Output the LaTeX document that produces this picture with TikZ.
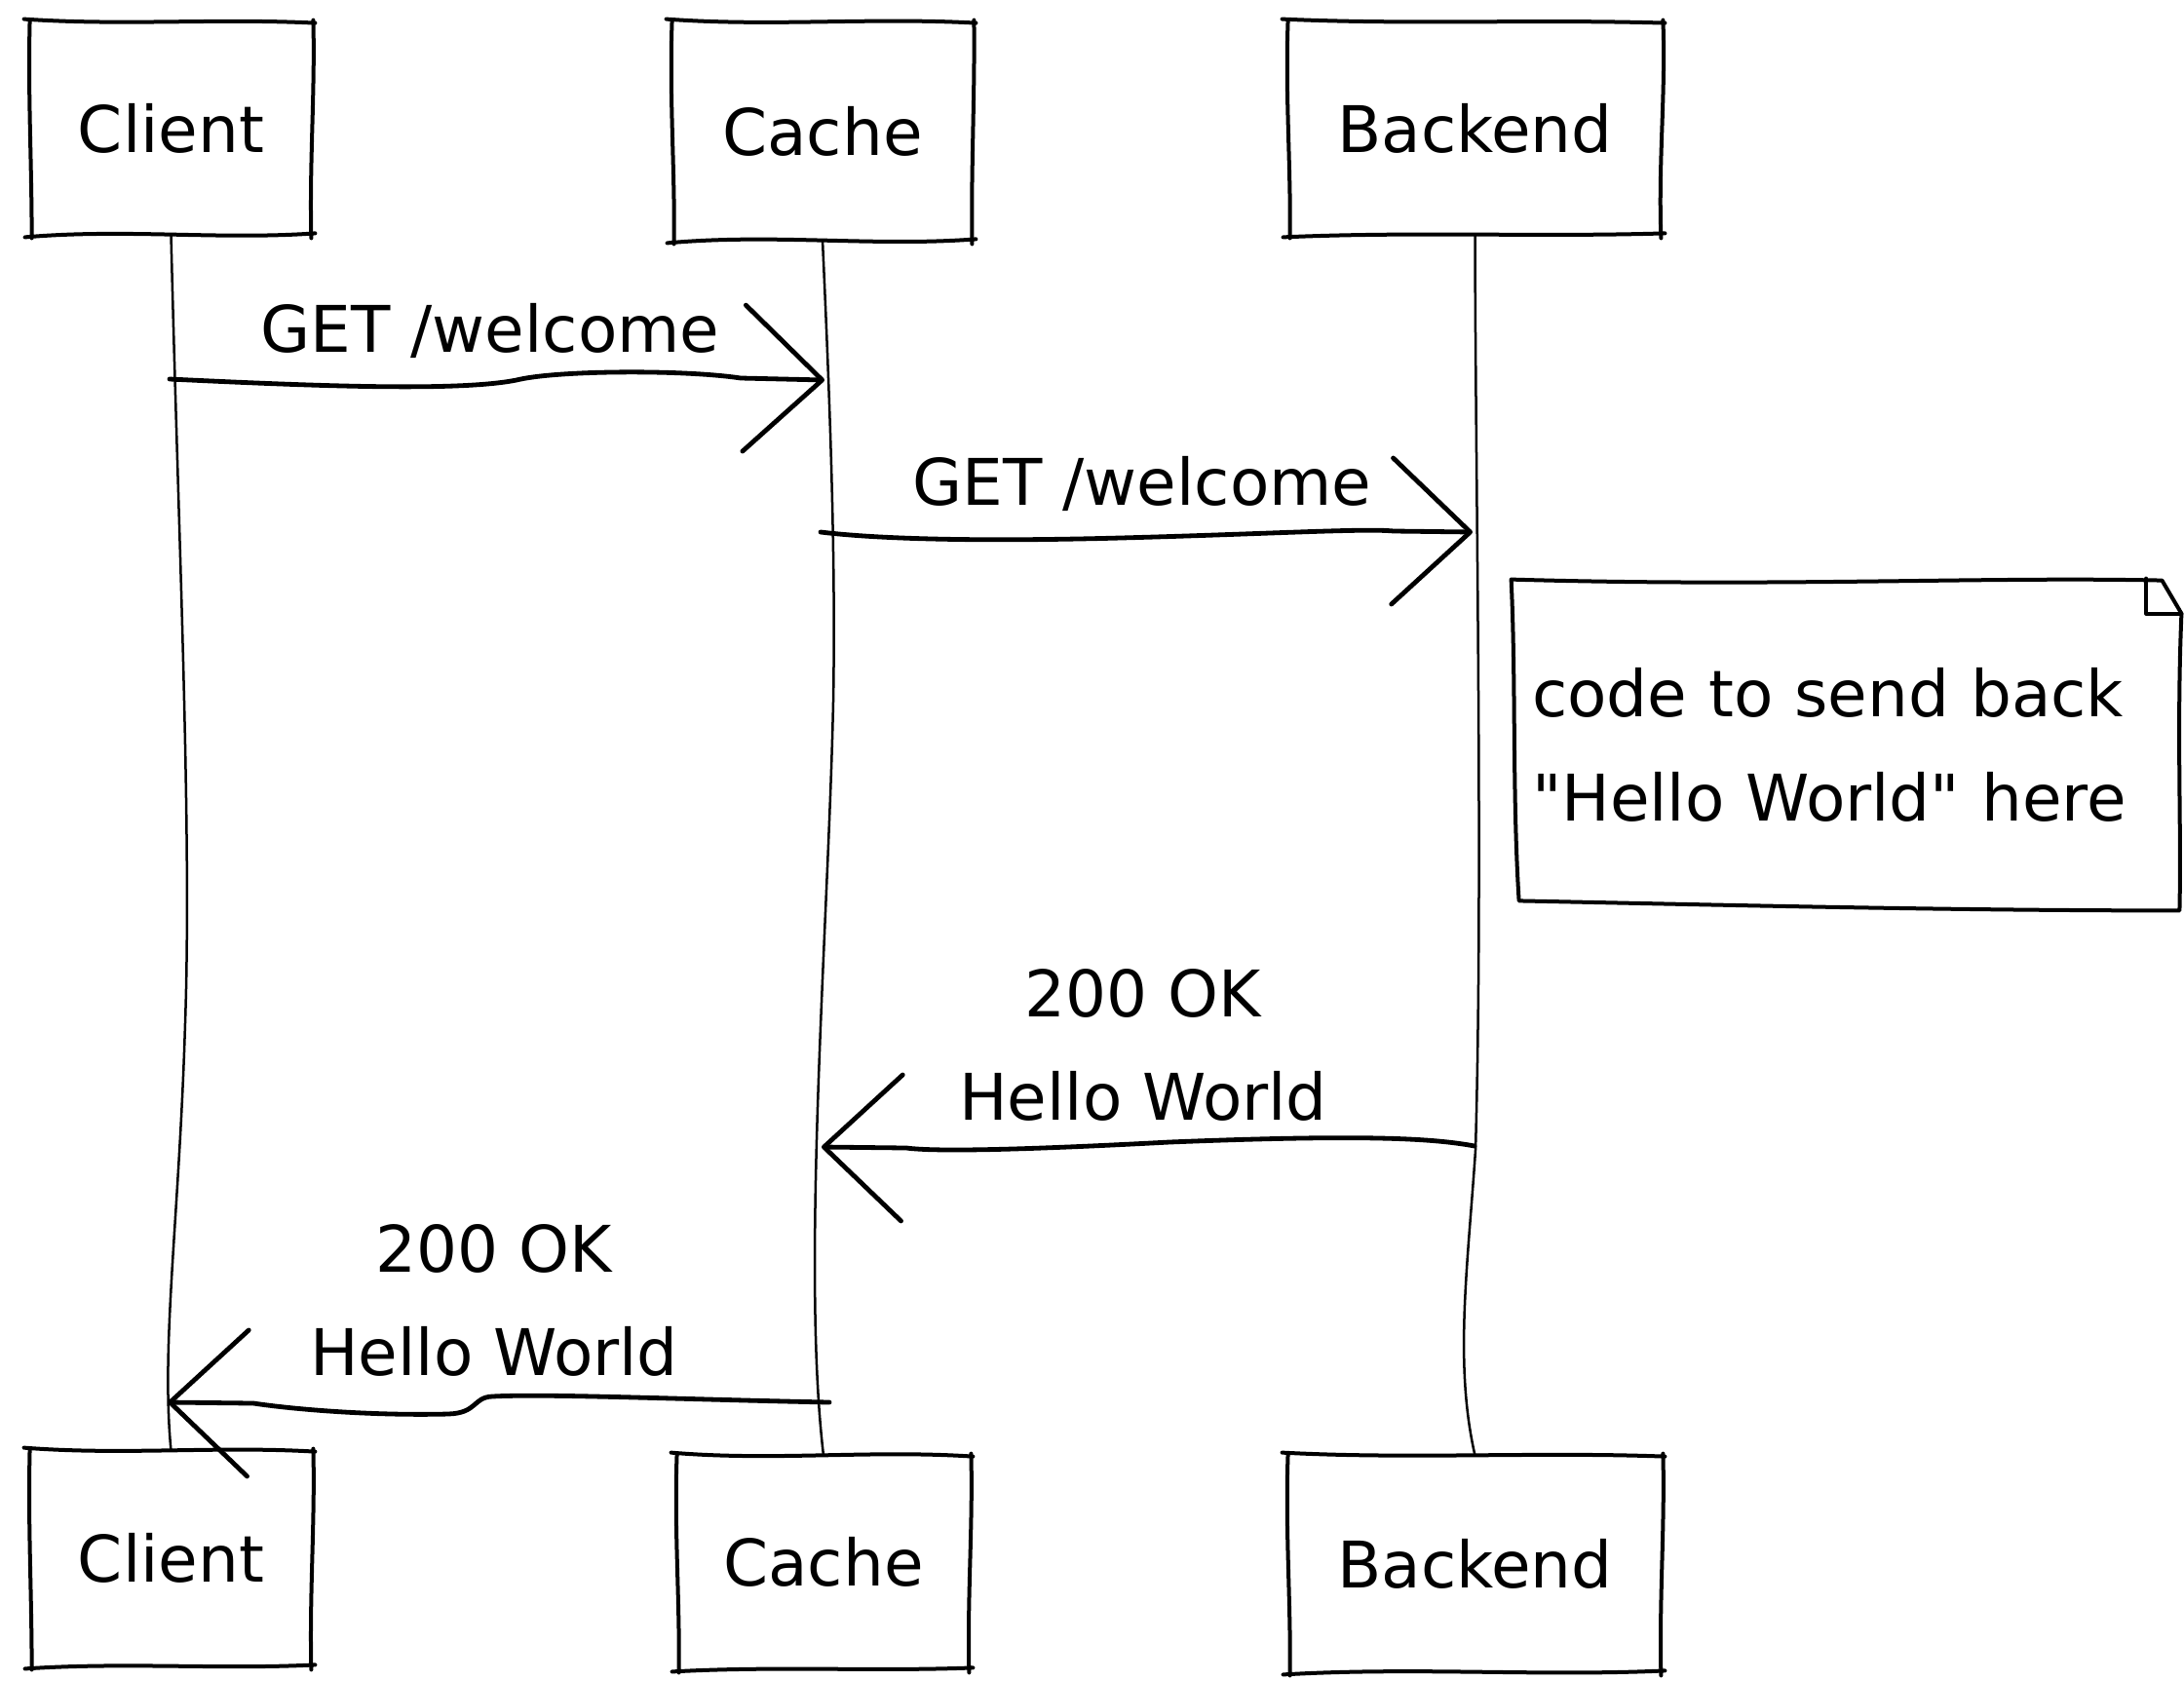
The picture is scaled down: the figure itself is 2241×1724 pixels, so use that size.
\documentclass[tikz,border=0pt]{standalone}
\usepackage{fontspec}
\setmainfont{DejaVu Sans}[Ligatures=TeXOff]
\usetikzlibrary{calc,arrows.meta}

% Hand-drawn rectangle around a node: four separate strokes, each side with a gentle S-wave
% #1 node, #2 top wave, #3 right wave, #4 bottom wave, #5 left wave
\newcommand\sketchrect[5]{%
  \draw[boxline]
    ($(#1.north west)+(-6,-3)$) .. controls ($(#1.north west)!.33!(#1.north east)+(0,#2)$) and ($(#1.north west)!.66!(#1.north east)+(0,-#2)$) .. ($(#1.north east)+(3,1)$)
    ($(#1.north east)+(1,-2)$) .. controls ($(#1.north east)!.33!(#1.south east)+(#3,0)$) and ($(#1.north east)!.66!(#1.south east)+(-#3,0)$) .. ($(#1.south east)+(-1,4)$)
    ($(#1.south east)+(3,-1)$) .. controls ($(#1.south east)!.33!(#1.south west)+(0,#4)$) and ($(#1.south east)!.66!(#1.south west)+(0,-#4)$) .. ($(#1.south west)+(-5,3)$)
    ($(#1.south west)+(2,4)$) .. controls ($(#1.south west)!.33!(#1.north west)+(#5,0)$) and ($(#1.south west)!.66!(#1.north west)+(-#5,0)$) .. ($(#1.north west)+(0,-2)$);
}

\begin{document}
\begin{tikzpicture}[x=0.5pt,y=-0.5pt,
  boxline/.style={line width=2pt, line cap=round, line join=round},
  life/.style={line width=1.25pt, line cap=round},
  msg/.style={line width=2.4pt, line cap=round, line join=round,
    -{Straight Barb[round,length=40pt,width=75pt]}},
  actor/.style={inner sep=0pt, font=\fontsize{33}{40}\selectfont},
  lbl/.style={inner sep=0pt, align=center, font=\fontsize{33}{53}\selectfont},
  notebox/.style={inner sep=9pt, text width=323pt, align=left,
    minimum height=167.5pt, font=\fontsize{33}{53.5}\selectfont},
]
\useasboundingbox (0,0) rectangle (2241,1724);

% participants, top row
\node[actor, minimum width=144.5pt, minimum height=108.5pt] (ct)  at (175.5,131.5) {Client};
\node[actor, minimum width=154pt,   minimum height=111.5pt] (cat) at (844,134.5)   {Cache};
\node[actor, minimum width=191.5pt, minimum height=108.5pt] (bet) at (1513.5,131.5) {Backend};
% participants, bottom row
\node[actor, minimum width=144.5pt, minimum height=110pt]   (cb)  at (175.5,1599)  {Client};
\node[actor, minimum width=150pt,   minimum height=109pt]   (cab) at (845,1603)    {Cache};
\node[actor, minimum width=191.5pt, minimum height=110.5pt] (beb) at (1513.5,1604.5) {Backend};

\sketchrect{ct}{4}{3}{6}{2}
\sketchrect{cat}{5}{2}{7}{3}
\sketchrect{bet}{3}{4}{3}{3}
\sketchrect{cb}{5}{3}{4}{2}
\sketchrect{cab}{6}{3}{3}{3}
\sketchrect{beb}{4}{3}{5}{3}

% lifelines
\draw[life] (ct.south) .. controls (183,550) and (197,850) .. (190,1050)
            .. controls (184,1250) and (165,1380) .. (cb.north);
\draw[life] (cat.south) .. controls (850,380) and (858,560) .. (855,720)
            .. controls (850,950) and (822,1300) .. (cab.north);
\draw[life] (bet.south) .. controls (1514,500) and (1522,900) .. (1514,1180)
            .. controls (1506,1300) and (1492,1400) .. (beb.north);

% message end points on the lifelines
\coordinate (m1s) at (174,389);   \coordinate (m1e) at (846,390);
\coordinate (m2s) at (842,546);   \coordinate (m2e) at (1511,546);
\coordinate (m3s) at (1513,1176); \coordinate (m3e) at (843,1177);
\coordinate (m4s) at (851,1439);  \coordinate (m4e) at (172,1439);

% messages
\draw[msg] (m1s) .. controls (320,396) and (470,402) .. (530,390)
           .. controls (570,380) and (700,379) .. (760,388) -- (m1e);
\draw[msg] (m2s) .. controls (900,553) and (1000,556) .. (1150,552)
           .. controls (1300,548) and (1400,542) .. (1430,545) -- (m2e);
\draw[msg] (m3s) .. controls (1470,1168) and (1400,1164) .. (1200,1172)
           .. controls (1050,1180) and (960,1182) .. (930,1178) -- (m3e);
\draw[msg] (m4s) .. controls (700,1436) and (560,1430) .. (505,1433)
           .. controls (485,1434) and (490,1450) .. (460,1451)
           .. controls (380,1453) and (300,1446) .. (260,1440) -- (m4e);

% message labels
\node[lbl] (l1) at (503,339)   {GET /welcome};
\node[lbl] (l2) at (1172,496)  {GET /welcome};
\node[lbl] (l3) at (1173,1072) {200 OK\\Hello World};
\node[lbl] (l4) at (507,1334)  {200 OK\\Hello World};

% note with folded corner
\node[notebox] (nt) at (1895,764.5) {code to send back\\"Hello World" here};
\draw[boxline]
  ($(nt.north west)+(-3,-2)$) .. controls ($(nt.north west)!.4!(nt.north east)+(0,6)$)
     and ($(nt.north west)!.7!(nt.north east)+(0,-5)$) .. ($(nt.north east)+(-18,-1)$)
  -- ($(nt.north east)+(2,33)$)
  .. controls ($(nt.north east)!.45!(nt.south east)+(-3,0)$) and ($(nt.north east)!.75!(nt.south east)+(2,0)$) .. ($(nt.south east)+(0,2)$)
  .. controls ($(nt.south east)!.35!(nt.south west)+(0,2)$) and ($(nt.south east)!.7!(nt.south west)+(0,-4)$) .. ($(nt.south west)+(5,-8)$)
  .. controls ($(nt.south west)!.35!(nt.north west)+(-2,0)$) and ($(nt.south west)!.7!(nt.north west)+(2,0)$) .. ($(nt.north west)+(-3,-2)$);
\draw[boxline] ($(nt.north east)+(-34,-3)$) -- ($(nt.north east)+(-34,33)$) -- ($(nt.north east)+(2,33)$);

\end{tikzpicture}
\end{document}
